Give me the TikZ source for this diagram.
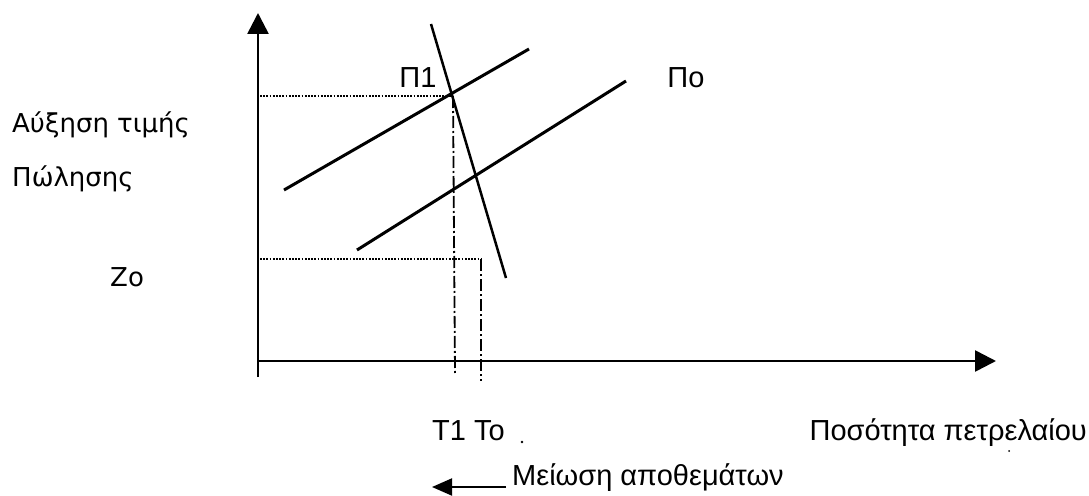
\documentclass[tikz,border=0pt]{standalone}
\usepackage{fontspec}
\setmainfont{Liberation Sans}
\newfontfamily\leftfont{DejaVu Sans}
\usetikzlibrary{arrows.meta}
\begin{document}
\begin{tikzpicture}[x=1pt,y=-1pt,
  axis/.style={line width=2.6pt,-{Triangle[length=21pt,width=21pt]}},
  curve/.style={line width=3pt},
  dotline/.style={line width=1.8pt,dash pattern=on 1.8pt off 1.4pt},
  dashdot/.style={line width=1.8pt,dash pattern=on 12pt off 3pt on 2pt off 3pt},
  lbl/.style={font=\fontsize{29}{34}\selectfont,inner sep=0pt},
  llbl/.style={font=\leftfont\fontsize{26}{30}\selectfont,inner sep=0pt}]
\useasboundingbox (0,0) rectangle (1089,495);
% axes
\coordinate (O) at (258,361);
\coordinate (ybot) at (258,377);
\coordinate (ytop) at (258,13);
\coordinate (xend) at (996,361);
\draw[axis] (ybot) -- (ytop);
\draw[axis] (O) -- (xend);
% lines
\coordinate (p1a) at (284,190); \coordinate (p1b) at (529,49);
\coordinate (p0a) at (357,250); \coordinate (p0b) at (626,81);
\coordinate (da) at (431,24); \coordinate (db) at (506,278);
\draw[curve] (p1a) -- (p1b);
\draw[curve] (p0a) -- (p0b);
\draw[line width=2.5pt] (da) -- (db);
% guides
\coordinate (E1) at (453,96);
\coordinate (E1y) at (260,96);
\coordinate (E1x) at (455,373);
\coordinate (Z1) at (260,259);
\coordinate (Z2) at (481,259);
\coordinate (Z3) at (481,381);
\draw[dotline] (E1y) -- (E1);
\draw[dashdot] (E1) -- (E1x);
\draw[dotline] (Z1) -- (Z2);
\draw[dashdot] (Z2) -- (Z3);
% labels
\node[lbl,anchor=base] (P1) at (418,88) {Π1};
\node[lbl,anchor=base] (P0) at (686,88) {Πο};
\node[llbl,anchor=base west] (ay) at (12,132) {Αύξηση τιμής};
\node[llbl,anchor=base west] (pol) at (12,186) {Πώλησης};
\node[llbl,anchor=base west] (zo) at (110,286) {Ζο};
\node[lbl,anchor=base west] (to) at (432,440) {Τ1 Το};
\node[lbl,anchor=base east] (qty) at (1087,440) {Ποσότητα πετρελαίου};
\node[lbl,anchor=base west] (mei) at (512,485) {Μείωση αποθεμάτων};
\coordinate (arrT) at (506,487);
\coordinate (arrH) at (432,487);
\draw[line width=2pt,-{Triangle[length=20pt,width=17pt]}] (arrT) -- (arrH);
\fill (522,442) circle (1.3pt);
\fill (1009,451) circle (1pt);
\end{tikzpicture}
\end{document}
